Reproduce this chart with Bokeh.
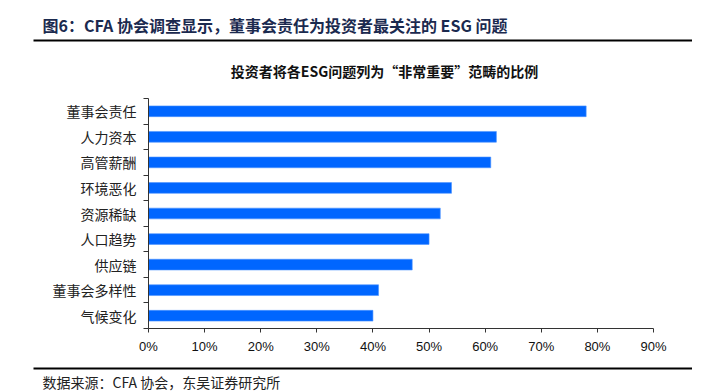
from bokeh.plotting import figure
from bokeh.layouts import column
from bokeh.models import ColumnDataSource, FixedTicker, Label, BoxAnnotation, NumeralTickFormatter, Range1d
from bokeh.embed import file_html
from bokeh.resources import INLINE

categories = ["气候变化", "董事会多样性", "供应链", "人口趋势", "资源稀缺", "环境恶化", "高管薪酬", "人力资本", "董事会责任"]
values = [0.40, 0.41, 0.47, 0.50, 0.52, 0.54, 0.61, 0.62, 0.78]
x_ticks = [0.0, 0.1, 0.2, 0.3, 0.4, 0.5, 0.6, 0.7, 0.8, 0.9]

title_text = "图6：CFA 协会调查显示，董事会责任为投资者最关注的 ESG 问题"
subtitle_text = "投资者将各ESG问题列为“非常重要”范畴的比例"
source_text = "数据来源：CFA 协会，东吴证券研究所"

W = 692
CJK = "Noto Sans CJK SC"


def blank(h):
    f = figure(width=W, height=h, output_backend="svg", toolbar_location=None,
               x_axis_type=None, y_axis_type=None, min_border=0,
               x_range=Range1d(0, 1), y_range=Range1d(0, 1))
    f.outline_line_color = None
    f.grid.visible = False
    f.frame_align = False
    return f


def rule(f, bottom, top):
    f.add_layout(BoxAnnotation(left=33, right=692, bottom=bottom, top=top,
                               left_units="screen", right_units="screen",
                               top_units="screen", bottom_units="screen",
                               fill_color="black", fill_alpha=1, line_color=None))


# ---------- header ----------
HH = 90
head = blank(HH)
head.add_layout(Label(x=42, y=HH - 24, x_units="screen", y_units="screen", text=title_text,
                      text_font=CJK, text_font_style="bold", text_font_size="16px",
                      text_color="#1b2a4f", text_baseline="middle"))
rule(head, HH - 41, HH - 39)
head.add_layout(Label(x=384, y=HH - 70, x_units="screen", y_units="screen", text=subtitle_text,
                      text_font=CJK, text_font_style="bold", text_font_size="14px",
                      text_color="#111111", text_baseline="middle", text_align="center"))

# ---------- main chart ----------
ypos = list(range(len(categories)))
src = ColumnDataSource(dict(y=ypos, v=values))

p = figure(width=W, height=266, output_backend="svg", toolbar_location=None,
           x_range=Range1d(0, 0.9), y_range=Range1d(-0.5, len(categories) - 0.5),
           min_border_left=148, min_border_right=39, min_border_top=8, min_border_bottom=26)
p.outline_line_color = None
p.grid.visible = False
p.frame_align = False

p.hbar(y="y", right="v", left=0, height=0.42, source=src,
       fill_color="#0066ff", line_color="#4d94ff", line_width=0.6)

p.xaxis.ticker = FixedTicker(ticks=x_ticks)
p.xaxis.formatter = NumeralTickFormatter(format="0%")
p.xaxis.axis_line_color = "#333333"
p.xaxis.major_tick_line_color = "#333333"
p.xaxis.major_tick_out = 4
p.xaxis.major_tick_in = 0
p.xaxis.minor_tick_line_color = None
p.xaxis.major_label_text_font = "Liberation Sans"
p.xaxis.major_label_text_font_size = "13px"
p.xaxis.major_label_text_color = "#111111"
p.xaxis.major_label_standoff = 6

bounds = [i - 0.5 for i in range(len(categories) + 1)]
p.yaxis.ticker = FixedTicker(ticks=ypos, minor_ticks=bounds)
p.yaxis.major_label_overrides = {i: c for i, c in enumerate(categories)}
p.yaxis.major_tick_out = 0
p.yaxis.major_tick_in = 0
p.yaxis.minor_tick_out = 5
p.yaxis.minor_tick_in = 0
p.yaxis.minor_tick_line_color = "#333333"
p.yaxis.axis_line_color = "#333333"
p.yaxis.major_label_text_font = CJK
p.yaxis.major_label_text_font_size = "14px"
p.yaxis.major_label_text_color = "#222222"
p.yaxis.major_label_standoff = 7

# ---------- footer ----------
FH = 35
foot = blank(FH)
rule(foot, FH - 13, FH - 11)
foot.add_layout(Label(x=42, y=FH - 25, x_units="screen", y_units="screen", text=source_text,
                      text_font=CJK, text_font_size="14px",
                      text_color="#222222", text_baseline="middle"))

layout = column(head, p, foot, spacing=0)
open("out.html", "w").write(file_html(layout, INLINE))
